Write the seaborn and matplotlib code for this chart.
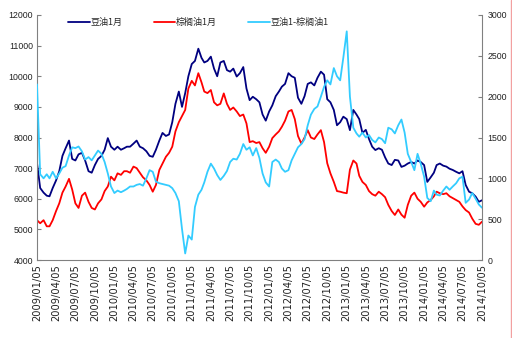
import datetime as dt

import matplotlib
matplotlib.use("Agg")
import matplotlib.dates as mdates
import matplotlib.pyplot as plt
from matplotlib.lines import Line2D
import pandas as pd
import seaborn as sns

# Observation dates: the 5th and 20th of each month, Jan 2009 - Oct 2014
dates = [dt.date(y, m, d)
         for y in range(2009, 2015)
         for m in range(1, 13)
         for d in (5, 20)
         if dt.date(y, m, d) <= dt.date(2014, 10, 5)]

# Soybean oil Jan contract (yuan/ton, left axis)
soy = [7170, 6350, 6200, 6100, 6080, 6350, 6600, 6900, 7400, 7650,
       7900, 7300, 7250, 7450, 7500, 7250, 6900, 6850, 7100, 7300,
       7400, 7600, 7980, 7700, 7600, 7700, 7600, 7650, 7700, 7700,
       7800, 7900, 7700, 7650, 7550, 7400, 7370, 7600, 7900, 8150,
       8050, 8100, 8500, 9100, 9500, 9000, 9450, 10000, 10400, 10500,
       10900, 10600, 10450, 10500, 10640, 10250, 10000, 10450, 10500, 10200,
       10150, 10250, 9990, 10100, 10300, 9600, 9220, 9330, 9250, 9150,
       8750, 8550, 8850, 9050, 9350, 9500, 9660, 9750, 10100, 10000,
       9950, 9300, 9100, 9350, 9750, 9800, 9700, 9950, 10150, 10050,
       9250, 9150, 8900, 8400, 8500, 8680, 8600, 8240, 8900, 8750,
       8600, 8150, 8250, 7950, 7700, 7590, 7650, 7600, 7350, 7150,
       7100, 7270, 7250, 7040, 7080, 7150, 7200, 7150, 7250, 7200,
       7100, 6550, 6700, 6850, 7100, 7150, 7080, 7050, 6980, 6940,
       6880, 6830, 6900, 6450, 6230, 6180, 6070, 5900, 5950]

# Palm oil Jan contract (yuan/ton, left axis)
palm = [5300, 5200, 5300, 5100, 5100, 5300, 5600, 5850, 6200, 6400,
        6650, 6300, 5850, 5700, 6100, 6200, 5900, 5700, 5650, 5850,
        5980, 6250, 6400, 6720, 6600, 6830, 6780, 6900, 6900, 6850,
        7050, 7000, 6850, 6700, 6600, 6450, 6230, 6450, 6940, 7150,
        7370, 7500, 7700, 8200, 8500, 8700, 8900, 9600, 9850, 9700,
        10100, 9800, 9500, 9450, 9550, 9150, 9050, 9100, 9440, 9100,
        8900, 8980, 8850, 8700, 8750, 8460, 7850, 7880, 7820, 7850,
        7650, 7500, 7700, 7980, 8100, 8200, 8350, 8550, 8850, 8900,
        8600, 8050, 7800, 8000, 8240, 8000, 7950, 8100, 8240, 7850,
        7160, 6830, 6550, 6250, 6230, 6200, 6180, 6950, 7250, 7150,
        6750, 6550, 6450, 6250, 6150, 6100, 6230, 6150, 6050, 5800,
        5600, 5470, 5650, 5480, 5380, 5800, 6100, 6200, 6000, 5900,
        5740, 5880, 5960, 6080, 6230, 6180, 6150, 6180, 6080, 6020,
        5960, 5900, 5750, 5630, 5550, 5350, 5180, 5150, 5250]

# Soybean oil minus palm oil spread (right axis)
spread = [2150, 1050, 1000, 1050, 1000, 1080, 1000, 1060, 1130, 1150,
          1280, 1380, 1370, 1390, 1330, 1230, 1260, 1220, 1280, 1340,
          1300, 1200, 1060, 900, 820, 850, 830, 850, 870, 900,
          900, 920, 930, 910, 1000, 1100, 1080, 960, 940, 930,
          920, 910, 880, 820, 720, 380, 80, 300, 250, 650,
          800, 860, 950, 1080, 1180, 1120, 1040, 980, 1030, 1090,
          1200, 1240, 1230, 1300, 1420, 1350, 1380, 1280, 1370, 1250,
          1060, 950, 900, 1200, 1230, 1200, 1120, 1080, 1100, 1220,
          1300, 1380, 1420, 1480, 1650, 1780, 1850, 1880, 2000, 2120,
          2200, 2150, 2350, 2250, 2200, 2480, 2800, 2000, 1620, 1550,
          1510, 1560, 1500, 1530, 1470, 1440, 1500, 1480, 1430, 1620,
          1600, 1550, 1650, 1720, 1560, 1300, 1200, 1100, 1300, 1180,
          1020, 760, 720, 850, 800, 790, 850, 900, 860, 900,
          940, 1000, 1020, 700, 740, 820, 750, 680, 640]

series_names = ["豆油1月", "棕榈油1月", "豆油1-棕榈油1"]
series_colors = ["#000080", "#FF0000", "#33CCFF"]

left_ticks = list(range(4000, 12001, 1000))
right_ticks = list(range(0, 3001, 500))
x_ticks = [dt.date(y, m, 5) for y in range(2009, 2015) for m in (1, 4, 7, 10)]

df = pd.DataFrame({"date": pd.to_datetime(dates), "soy": soy,
                   "palm": palm, "spread": spread})

sns.set_style("white")
plt.rcParams["font.family"] = ["Liberation Sans", "Noto Sans CJK SC"]

fig = plt.figure(figsize=(5.12, 3.38), dpi=100)
ax = fig.add_axes([37 / 512, 1 - 260 / 338, 445 / 512, 245 / 338])
ax2 = ax.twinx()

sns.lineplot(data=df, x="date", y="soy", ax=ax, color=series_colors[0],
             lw=1.3, label=series_names[0], legend=False)
sns.lineplot(data=df, x="date", y="palm", ax=ax, color=series_colors[1],
             lw=1.3, label=series_names[1], legend=False)
sns.lineplot(data=df, x="date", y="spread", ax=ax2, color=series_colors[2],
             lw=1.3, label=series_names[2], legend=False)

ax.set_xlim(pd.Timestamp("2009-01-05"), pd.Timestamp("2014-10-05"))
ax.set_ylim(4000, 12000)
ax2.set_ylim(0, 3000)
ax.set_yticks(left_ticks)
ax2.set_yticks(right_ticks)
ax.set_xticks(pd.to_datetime(x_ticks))
ax.xaxis.set_major_formatter(mdates.DateFormatter("%Y/%m/%d"))

for a in (ax, ax2):
    a.set_xlabel("")
    a.set_ylabel("")
    a.grid(False)
    for side in a.spines:
        a.spines[side].set_color("#808080")
        a.spines[side].set_linewidth(0.8)
    a.spines["top"].set_visible(False)
ax.spines["right"].set_visible(False)
ax2.spines["left"].set_visible(False)
ax2.spines["bottom"].set_visible(False)

ax.tick_params(axis="y", direction="in", length=3, width=0.8, color="#808080",
               labelsize=6.3, pad=3, labelcolor="#222222")
ax2.tick_params(axis="y", direction="in", length=3, width=0.8, color="#808080",
                labelsize=6.3, pad=4, labelcolor="#222222")
ax.tick_params(axis="x", direction="in", length=3, width=0.8, color="#808080",
               pad=3, labelrotation=90, labelcolor="#222222")
for lbl in ax.get_xticklabels():
    lbl.set_fontfamily("DejaVu Sans")
    lbl.set_fontsize(7.1)

handles = ax.get_lines()[:2] + ax2.get_lines()[:1]
leg = ax.legend(handles, series_names, loc="center",
                bbox_to_anchor=(0.363, 0.968), ncol=3, frameon=False,
                handlelength=2.4, handletextpad=0.1, columnspacing=3.4,
                prop={"family": ["Noto Sans CJK SC"], "size": 6.5})

# thin border line on the right edge of the image
fig.add_artist(Line2D([510.5 / 512, 510.5 / 512], [0, 1],
                      transform=fig.transFigure, color="#F2A0A0", lw=1))

fig.savefig("out.png", dpi=100)
